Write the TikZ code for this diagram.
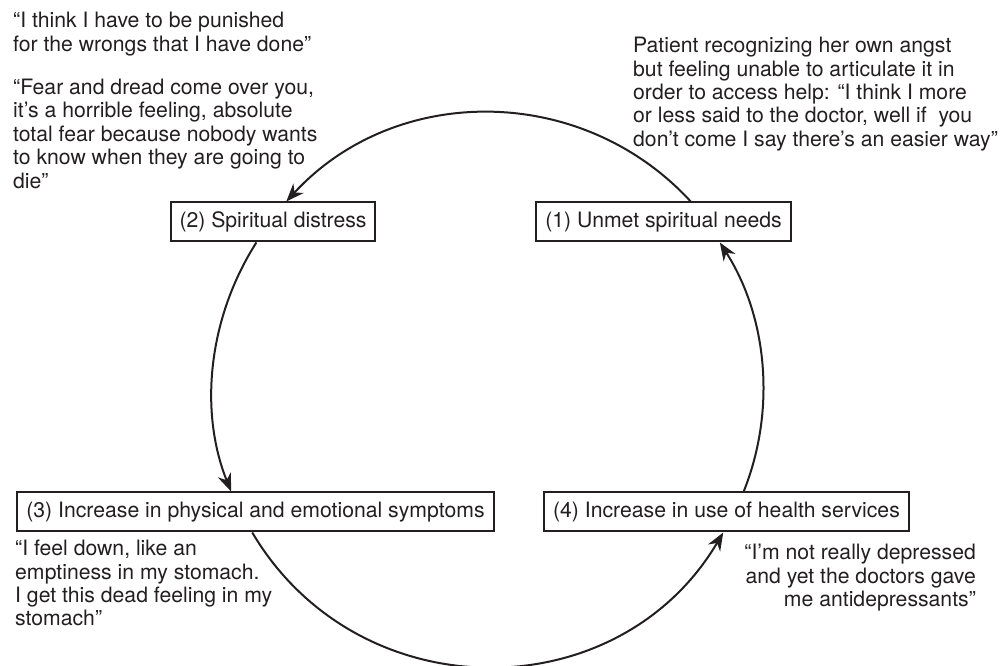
\documentclass[tikz,border=0pt]{standalone}
\usepackage{fontspec}
\setmainfont{TeX Gyre Heros}
\usepackage{tikz}
\usetikzlibrary{positioning,arrows.meta}
\definecolor{inkgray}{HTML}{231F20}
\tikzset{
    cyclebox/.style={draw, line width=2pt, rectangle, align=center, inner xsep=9pt, inner ysep=2pt, minimum height=39pt, fill=white},
    cyclequote/.style={align=left, inner sep=0pt},
    cyclearrow/.style={draw, line width=2pt, -{Stealth[length=18pt, width=14pt]}}
}

\begin{document}
\begin{tikzpicture}[x=1pt, y=1pt, font=\fontsize{21.2}{23.4}\selectfont, color=inkgray]
    \useasboundingbox (0,0) rectangle (1004,666);

    \node[cyclebox] (unmet) at (663.5,444) {(1) Unmet spiritual needs};
    \node[cyclebox] (distress) at (273,444) {(2) Spiritual distress};
    \node[cyclebox] (symptoms) at (255.5,154) {(3) Increase in physical and emotional symptoms};
    \node[cyclebox] (services) at (726.5,154) {(4) Increase in use of health services};

    \node[cyclequote, anchor=north west] (punished) at (13,654) {“I think I have to be punished\\for the wrongs that I have done”};
    \node[cyclequote, below=23pt of punished.south west, anchor=north west] (dread) {“Fear and dread come over you,\\it’s a horrible feeling, absolute\\total fear because nobody wants\\to know when they are going to\\die”};
    \node[cyclequote, anchor=north west] (angst) at (633,629) {Patient recognizing her own angst\\but feeling unable to articulate it in\\order to access help: “I think I more\\or less said to the doctor, well if \ you\\don’t come I say there’s an easier way”};
    \node[cyclequote, anchor=north west] (emptiness) at (15,126) {“I feel down, like an\\emptiness in my stomach.\\I get this dead feeling in my\\stomach”};
    \node[cyclequote, align=right, anchor=north east] (antidep) at (976,122) {“I’m not really depressed\\and yet the doctors gave\\me antidepressants”};

    \draw[cyclearrow] (unmet.37) to[out=132.6, in=47.4, looseness=1.02] (distress.57);
    \draw[cyclearrow] (distress.231) to[out=237.4, in=111.8, looseness=0.9] (symptoms.140);
    \draw[cyclearrow] (symptoms.261) to[out=300.6, in=239.4, looseness=1.13] (services.261);
    \draw[cyclearrow] (services.50) to[out=68.2, in=302.6, looseness=0.9] (unmet.340);
\end{tikzpicture}
\end{document}
